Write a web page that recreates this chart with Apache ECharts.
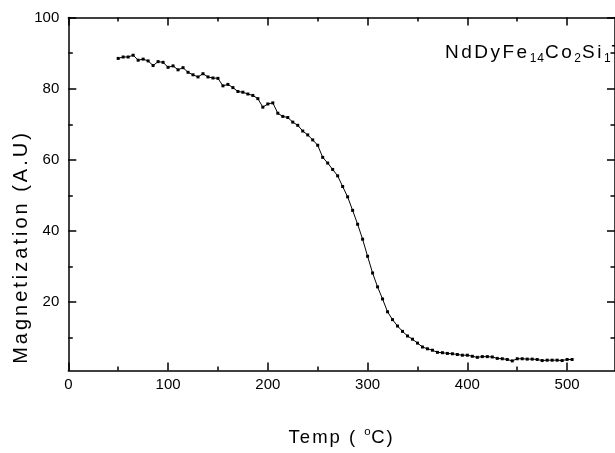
<!DOCTYPE html>
<html>
<head>
<meta charset="utf-8">
<script src="https://cdn.jsdelivr.net/npm/echarts@6/dist/echarts.min.js"></script>
<style>html,body{margin:0;padding:0;background:#fff}#c{width:615px;height:453px}</style>
</head>
<body>
<div id="c"></div>
<script>
// ---- data ----
const temps = [50,55,60,65,70,75,80,85,90,95,100,105,110,115,120,125,130,135,140,145,150,155,160,165,170,175,180,185,190,195,200,205,210,215,220,225,230,235,240,245,250,255,260,265,270,275,280,285,290,295,300,305,310,315,320,325,330,335,340,345,350,355,360,365,370,375,380,385,390,395,400,405,410,415,420,425,430,435,440,445,450,455,460,465,470,475,480,485,490,495,500,505];
const magnetization = [88.5,88.9,88.9,89.4,88.0,88.3,87.8,86.5,87.6,87.4,86.0,86.4,85.3,85.9,84.6,83.9,83.3,84.2,83.3,83.0,82.9,80.8,81.2,80.3,79.2,79.0,78.5,78.1,77.2,74.8,75.7,76.0,73.1,72.2,71.9,70.6,69.7,68.1,67.0,65.6,64.1,60.7,59.1,57.3,55.5,52.5,49.6,45.8,41.9,37.7,32.9,28.2,24.3,20.9,17.3,15.1,13.3,11.8,10.5,9.6,8.5,7.4,6.9,6.5,5.9,5.8,5.6,5.5,5.3,5.1,5.1,4.8,4.5,4.7,4.7,4.6,4.2,4.1,3.9,3.5,4.1,4.1,4.0,4.0,3.9,3.6,3.7,3.7,3.7,3.6,3.9,3.9];
const xTickLabels = [0,100,200,300,400,500];
const xMinorTicks = [50,150,250,350,450];
const yTickLabels = [20,40,60,80,100];
const yMinorTicks = [10,30,50,70,90];
const xAxisTitle = ['Temp ( ', 'o', 'C)'];
const yAxisTitle = 'Magnetization (A.U)';
const formula = [['NdDyFe','14'],['Co','2'],['Si','1'],['T','']];

// ---- letter spacing by font size (Origin-style spaced text) ----
const SPACING = {20: 3, 18.5: 2, 19: 2.5, 12: 1, 11.5: 0.5};
function spFor(font){ const m = /(\d+(?:\.\d+)?)px/.exec(font||''); return m ? (SPACING[parseFloat(m[1])] || 0) : 0; }
const P = CanvasRenderingContext2D.prototype;
if ('letterSpacing' in P) {
  const f = P.fillText, mt = P.measureText;
  P.fillText = function(t,x,y,w){ this.letterSpacing = spFor(this.font)+'px'; return w===undefined ? f.call(this,t,x,y) : f.call(this,t,x,y,w); };
  P.measureText = function(t){ this.letterSpacing = spFor(this.font)+'px'; return mt.call(this,t); };
}

const FF = '"Liberation Sans", Arial, sans-serif';
const BLACK = '#000';
const chart = echarts.init(document.getElementById('c'), null, {renderer:'canvas'});

const XMIN = 0, XMAX = 548, YMIN = 0.8, YMAX = 100;
const lineS = {color: BLACK, width: 1.5};
function xAx(pos, values, len, showLine, extra){
  return Object.assign({
    type:'value', position: pos, min: XMIN, max: XMAX,
    splitLine:{show:false},
    axisLine:{show: showLine, onZero:false, lineStyle: lineS},
    axisTick:{show:true, inside:true, length: len, customValues: values, lineStyle: lineS},
    axisLabel:{show:false}
  }, extra || {});
}
function yAx(pos, values, len, showLine, extra){
  return Object.assign({
    type:'value', position: pos, min: YMIN, max: YMAX,
    splitLine:{show:false},
    axisLine:{show: showLine, onZero:false, lineStyle: lineS},
    axisTick:{show:true, inside:true, length: len, customValues: values, lineStyle: lineS},
    axisLabel:{show:false}
  }, extra || {});
}

const richFormula = formula.map(p => '{n|' + p[0] + '}' + (p[1] ? '{s|' + p[1] + '}' : '')).join('');

chart.setOption({
  animation: false,
  backgroundColor: '#fff',
  grid: {left: 68.3, top: 17.5, bottom: 69.7, width: 548, containLabel: false},
  xAxis: [
    xAx('bottom', xTickLabels, 8, true, {
      axisLabel:{show:true, customValues: xTickLabels, color: BLACK, fontSize: 15, fontFamily: FF, margin: 7},
      name: '{n|' + xAxisTitle[0] + '}{s|' + xAxisTitle[1] + '}{n|' + xAxisTitle[2] + '}',
      nameLocation: 'middle', nameGap: 55,
      nameTextStyle: {
        rich: {
          n: {fontSize: 18.5, fontFamily: FF, color: BLACK, lineHeight: 24},
          s: {fontSize: 11.5, fontFamily: FF, color: BLACK, lineHeight: 13, verticalAlign: 'top'}
        }
      }
    }),
    xAx('bottom', xMinorTicks, 4, false),
    xAx('top', xTickLabels, 8, true),
    xAx('top', xMinorTicks, 4, false)
  ],
  yAxis: [
    yAx('left', yTickLabels, 8, true, {
      axisLabel:{show:true, customValues: yTickLabels, color: BLACK, fontSize: 15, fontFamily: FF, margin: 9}
    }),
    yAx('left', yMinorTicks, 4.5, false),
    yAx('right', yTickLabels, 8, true),
    yAx('right', yMinorTicks, 4.5, false)
  ],
  graphic: [
    {
      type: 'text', x: 21, y: 247, rotation: Math.PI / 2,
      style: {text: yAxisTitle, fontSize: 20, fontFamily: FF, fill: BLACK, align: 'center', verticalAlign: 'middle'}
    },
    {
      type: 'text', x: 445, y: 41,
      style: {
        text: richFormula, fill: BLACK, align: 'left', verticalAlign: 'top',
        rich: {
          n: {fontSize: 19, fontFamily: FF, fill: BLACK, lineHeight: 24},
          s: {fontSize: 12, fontFamily: FF, fill: BLACK, lineHeight: 12, verticalAlign: 'bottom'}
        }
      }
    }
  ],
  series: [{
    type: 'line',
    xAxisIndex: 0, yAxisIndex: 0,
    data: temps.map((t, i) => [t, magnetization[i]]),
    symbol: 'rect', symbolSize: 3, showSymbol: true,
    lineStyle: {color: BLACK, width: 1},
    itemStyle: {color: BLACK},
    clip: false
  }]
});
</script>
</body>
</html>
